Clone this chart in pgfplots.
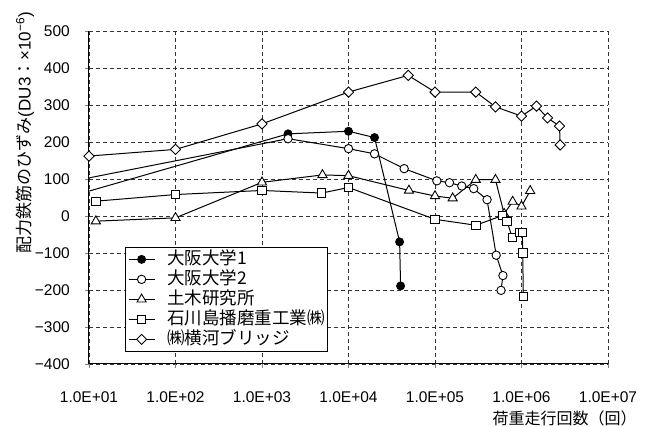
\documentclass[border=0pt]{standalone}
\usepackage{fontspec}
\setmainfont{Liberation Sans}
\newfontfamily\jp{Noto Sans CJK JP}
\usepackage{pgfplots}
\pgfplotsset{compat=1.18}
\begin{document}
\begin{tikzpicture}
\begin{axis}[
 name=ax, at={(0,0)}, anchor=south west,
 scale only axis, width=519pt, height=333pt,
 xmode=log, xmin=10, xmax=1e7, ymin=-400, ymax=500,
 xtick={10,100,1000,10000,100000,1000000,10000000},
 xticklabels={1.0E+01,1.0E+02,1.0E+03,1.0E+04,1.0E+05,1.0E+06,1.0E+07},
 ytick={-400,-300,-200,-100,0,100,200,300,400,500},
 yticklabels={−400,−300,−200,−100,0,100,200,300,400,500},
 xminorticks=false,
 tick pos=left, tick align=outside, major tick length=4pt,
 axis lines*=left, axis line style={-, line width=1pt, black},
 grid=major, major grid style={black!80, dash pattern=on 4pt off 3pt, line width=0.6pt},
 tick label style={font=\fontsize{15.5}{18}\selectfont},
 xticklabel style={anchor=center, inner sep=0pt, yshift=-28.7pt},
 yticklabel style={anchor=east, inner sep=0pt, xshift=-15pt},
 every axis plot/.append style={black, line width=1pt},
 legend style={at={(rel axis cs:0.069,0.037)}, anchor=south west, draw=black, line width=0.6pt, fill=white,
   font=\jp\fontsize{17.5}{20}\selectfont, inner sep=3pt, row sep=2pt, column sep=0pt,
   nodes={inner sep=0pt, text height=14pt, text depth=4pt},
   /tikz/every odd column/.append style={column sep=12pt}},
 legend cell align=left,
 legend image code/.code={\draw[mark repeat=2,mark phase=2,#1] plot coordinates {(0pt,0pt) (13pt,0pt) (26pt,0pt)};},
]
% 大阪大学1
\addplot[mark=*, mark size=4pt, mark options={fill=black, solid, line width=0.9pt}] coordinates {
 (1,0) (2000,222) (10000,229) (20000,212) (39000,-70) (40000,-189)};
\addlegendentry{大阪大学1}
% 大阪大学2
\addplot[mark=*, mark size=4.2pt, mark options={fill=white, solid, line width=0.9pt}] coordinates {
 (1,57) (2000,209) (10000,182) (20000,168) (44000,128) (105000,95) (147000,90) (204000,81) (280000,74)
 (400000,44) (510000,-106) (610000,-161) (580000,-201)};
\addlegendentry{大阪大学2}
% 土木研究所
\addplot[mark=triangle*, mark size=5.3pt, mark options={fill=white, solid, line width=0.9pt}] coordinates {
 (12,-14) (100,-5) (1000,91) (5000,111) (10000,109) (50000,69) (100000,54) (160000,48) (296000,98)
 (500000,98) (630000,6) (790000,39) (1000000,26) (1260000,68)};
\addlegendentry{土木研究所}
% 石川島播磨重工業(株)
\addplot[mark=square*, mark size=4.2pt, mark options={fill=white, solid, line width=0.9pt}] coordinates {
 (12,40) (100,58) (1000,69) (4900,62) (10000,77) (100000,-9) (296000,-25) (598000,1) (682000,-15)
 (780000,-58) (955000,-45) (1020000,-45) (1035000,-100) (1047000,-218)};
\addlegendentry{石川島播磨重工業㈱}
% (株)横河ブリッジ
\addplot[mark=square*, mark size=3.6pt, mark options={fill=white, solid, rotate=45, line width=0.9pt}] coordinates {
 (10,162) (100,180) (1000,249) (10000,335) (49000,380) (100000,335) (296000,335) (500000,295)
 (1000000,270) (1490000,297) (2000000,265) (2750000,243) (2800000,192)};
\addlegendentry{㈱横河ブリッジ}
\end{axis}
\node[rotate=90, anchor=center, font=\fontsize{17}{20}\selectfont] at ([xshift=-64pt, yshift=231.5pt]ax.south west)
 {{\jp 配力鉄筋のひずみ}(DU3{\jp ：}×10\textsuperscript{−6})};
\node[font=\jp\fontsize{16}{19}\selectfont] at ([xshift=475.7pt, yshift=-54pt]ax.south west) {荷重走行回数（回）};
\pgfresetboundingbox
\path[use as bounding box] ([shift={(-89pt,-63pt)}]ax.south west) rectangle ([shift={(38pt,31pt)}]ax.north east);
\end{tikzpicture}
\end{document}
